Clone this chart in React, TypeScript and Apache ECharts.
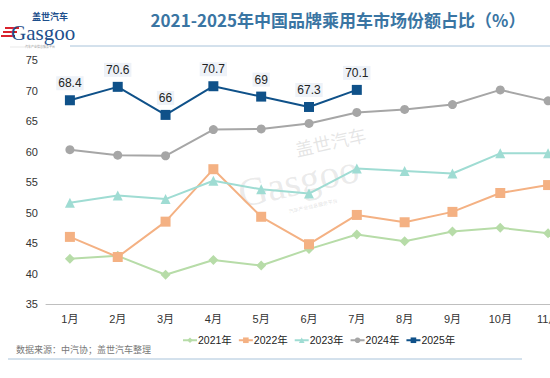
import React, { useEffect, useRef } from "react";
import * as echarts from "echarts";

const months = ["1月", "2月", "3月", "4月", "5月", "6月", "7月", "8月", "9月", "10月", "11月"];
const s2021 = [42.4, 42.9, 39.8, 42.2, 41.3, 44.0, 46.4, 45.3, 46.9, 47.5, 46.6];
const s2022 = [46.0, 42.7, 48.5, 57.1, 49.3, 44.8, 49.6, 48.4, 50.1, 53.2, 54.5];
const s2023 = [51.6, 52.8, 52.2, 55.2, 53.8, 53.1, 57.2, 56.8, 56.4, 59.7, 59.7];
const s2024 = [60.3, 59.4, 59.3, 63.6, 63.7, 64.6, 66.4, 66.9, 67.7, 70.1, 68.3];
const s2025 = [68.4, 70.6, 66, 70.7, 69, 67.3, 70.1];
const yTicks = { min: 35, max: 75, interval: 5 };

const FONT = 'Arial, "Liberation Sans", "Noto Sans CJK SC", sans-serif';

export default function App() {
  const ref = useRef<HTMLDivElement>(null);
  useEffect(() => {
    if (!ref.current) return;
    const chart = echarts.init(ref.current, undefined, { renderer: "svg" });
    const mk = (name: string, data: number[], color: string, symbol: string, size: number, extra: any = {}) => ({
      name,
      type: "line",
      data,
      symbol,
      symbolSize: size,
      lineStyle: { color, width: 2 },
      itemStyle: { color },
      ...extra,
    });
    chart.setOption({
      animation: false,
      textStyle: { fontFamily: FONT },
      grid: { left: 46, right: 0, top: 60, bottom: 74 },
      xAxis: {
        type: "category",
        data: months,
        boundaryGap: true,
        axisLine: { lineStyle: { color: "#bfbfbf", width: 1 } },
        axisTick: { show: false },
        axisLabel: { color: "#333", fontSize: 11, margin: 9 },
      },
      yAxis: {
        type: "value",
        min: yTicks.min,
        max: yTicks.max,
        interval: yTicks.interval,
        splitLine: { show: false },
        axisLine: { show: false },
        axisTick: { show: false },
        axisLabel: { color: "#333", fontSize: 11, margin: 8 },
      },
      legend: {
        left: 177,
        top: 330,
        itemWidth: 14,
        itemHeight: 7,
        itemGap: 6,
        textStyle: { color: "#222", fontSize: 10.5, padding: [0, 0, 0, -4] },
        data: ["2021年", "2022年", "2023年", "2024年", "2025年"],
      },
      graphic: [
        {
          type: "text",
          style: {
            text: "2021-2025年中国品牌乘用车市场份额占比（%）",
            x: 338,
            y: 19,
            align: "center",
            verticalAlign: "middle",
            fill: "#3a75a3",
            font: 'bold 17px "Noto Sans CJK SC", sans-serif',
          },
        },
        {
          type: "group",
          children: [
            { type: "rect", shape: { x: 5, y: 27, width: 14, height: 2 }, style: { fill: "#d9232d" } },
            { type: "rect", shape: { x: 3, y: 31, width: 14, height: 2 }, style: { fill: "#d9232d" } },
            { type: "rect", shape: { x: 1, y: 35, width: 14, height: 2 }, style: { fill: "#d9232d" } },
            {
              type: "text",
              style: { text: "盖世汽车", x: 32, y: 16, fill: "#1d4f8c", font: 'bold 9px "Noto Sans CJK SC", sans-serif', verticalAlign: "middle" },
            },
            {
              type: "text",
              style: { text: "Gasgoo", x: 11, y: 33, fill: "#1d4f8c", font: '21px "Liberation Serif", "DejaVu Serif", serif', verticalAlign: "middle" },
            },
            {
              type: "text",
              style: { text: "汽车产业信息服务平台", x: 40, y: 47, fill: "#9a9a9a", font: '3px "Noto Sans CJK SC", sans-serif', align: "center", verticalAlign: "middle" },
            },
            { type: "line", shape: { x1: 10, y1: 47, x2: 28, y2: 47 }, style: { stroke: "#d0d0d0", lineWidth: 0.5 } },
            { type: "line", shape: { x1: 70, y1: 46, x2: 572, y2: 46 }, style: { stroke: "#a8c3da", lineWidth: 1 } },
          ],
        },
        {
          type: "group",
          x: 312,
          y: 178,
          rotation: 0.22,
          children: [
            { type: "text", style: { text: "盖世汽车", x: -10, y: -32, fill: "rgba(150,150,150,0.25)", font: '18px "Noto Sans CJK SC", sans-serif', align: "left", verticalAlign: "middle" } },
            { type: "text", style: { text: "Gasgoo", x: -75, y: 0, fill: "rgba(150,150,150,0.2)", font: '40px "Liberation Serif", serif', align: "left", verticalAlign: "middle" } },
            { type: "text", style: { text: "汽车产业信息服务平台", x: -30, y: 27, fill: "rgba(150,150,150,0.3)", font: '5px "Noto Sans CJK SC", sans-serif', align: "left", verticalAlign: "middle" } },
          ],
        },
        {
          type: "text",
          style: { text: "数据来源：中汽协；盖世汽车整理", x: 16, y: 349, fill: "#777", font: '9px "Noto Sans CJK SC", sans-serif', verticalAlign: "middle" },
        },
        { type: "line", shape: { x1: 8, y1: 359, x2: 522, y2: 359 }, style: { stroke: "#a8c3da", lineWidth: 1 } },
      ],
      series: [
        mk("2021年", s2021, "#b7dca8", "diamond", 10),
        mk("2022年", s2022, "#f4b183", "rect", 10),
        mk("2023年", s2023, "#9fdcd3", "triangle", 10),
        mk("2024年", s2024, "#a6a6a6", "circle", 9),
        mk("2025年", s2025, "#0f5189", "rect", 10, {
          label: {
            show: true,
            position: "top",
            distance: 5,
            color: "#222",
            fontSize: 12,
            backgroundColor: "#eef2f8",
            padding: [1, 2],
          },
        }),
      ],
    });
    return () => chart.dispose();
  }, []);
  return (
    <div style={{ position: "fixed", left: 0, top: 0, width: 550, height: 378, overflow: "hidden", background: "#fff" }}>
      <div ref={ref} style={{ width: 572, height: 378 }} />
    </div>
  );
}
